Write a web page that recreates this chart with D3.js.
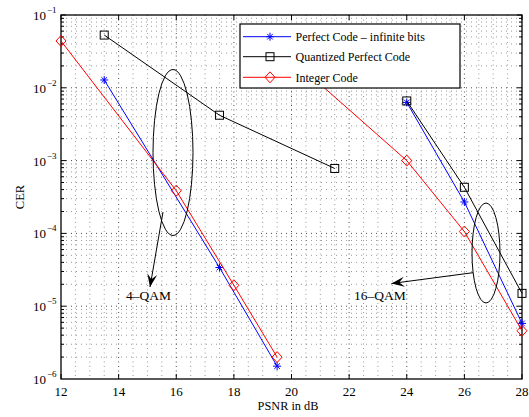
<!DOCTYPE html>
<html><head><meta charset="utf-8">
<script src="https://cdn.jsdelivr.net/npm/d3@7"></script>
<style>body{margin:0;background:#fff}svg{display:block}text{font-family:"Liberation Serif","Times New Roman",serif;fill:#000}</style>
</head><body><svg id="c" width="529" height="417"></svg>
<script>
// Data (PSNR in dB vs CER); null breaks between 4-QAM and 16-QAM groups
const perfectX = [13.5, 17.5, 19.5, null, 24, 26, 28];
const perfectY = [1.28e-2, 3.4e-5, 1.5e-6, null, 6.3e-3, 2.7e-4, 5.8e-6];
const quantX = [13.5, 17.5, 21.5, null, 24, 26, 28];
const quantY = [5.3e-2, 4.2e-3, 7.8e-4, null, 6.6e-3, 4.3e-4, 1.5e-5];
const integerX = [12, 16, 18, 19.5, null, 20, 24, 26, 28];
const integerY = [4.4e-2, 3.86e-4, 1.94e-5, 2.0e-6, null, 2.5e-2, 1.0e-3, 1.06e-4, 4.6e-6];
const xTicks = [12, 14, 16, 18, 20, 22, 24, 26, 28];
const yTickExps = [-1, -2, -3, -4, -5, -6];
const legendLabels = ["Perfect Code \u2013 infinite bits", "Quantized Perfect Code", "Integer Code"];
const annotations = ["4\u2013QAM", "16\u2013QAM"];

const svg = d3.select("#c");
const L = 61, R = 522, T = 15, B = 379;
const x = d3.scaleLinear().domain([12, 28]).range([L, R]);
const y = d3.scaleLog().domain([1e-6, 1e-1]).range([B, T]);

// grid
const g = svg.append("g");
const xMinor = d3.range(12.5, 28, 0.5);
g.selectAll("line.gx").data(xMinor).enter().append("line")
  .attr("x1", d => x(d)).attr("x2", d => x(d)).attr("y1", T).attr("y2", B)
  .attr("stroke", "#000").attr("stroke-width", 1).attr("stroke-dasharray", "1,3.5")
  .attr("stroke-opacity", d => (d % 2 === 0) ? 0.7 : 0.4);
const yMinor = [];
for (let e = -6; e < -1; e++) for (let k = 1; k < 10; k++) { const v = k * Math.pow(10, e); if (v > 1e-6) yMinor.push(v); }
g.selectAll("line.gy").data(yMinor).enter().append("line")
  .attr("x1", L).attr("x2", R).attr("y1", d => y(d)).attr("y2", d => y(d))
  .attr("stroke", "#000").attr("stroke-width", 1).attr("stroke-dasharray", "1,4")
  .attr("stroke-opacity", d => Math.abs(Math.log10(d) - Math.round(Math.log10(d))) < 1e-9 ? 0.7 : 0.4);

// ticks (inside, all four sides)
const ticks = svg.append("g").attr("stroke", "#000").attr("stroke-width", 1);
xTicks.forEach(t => {
  ticks.append("line").attr("x1", x(t)).attr("x2", x(t)).attr("y1", B).attr("y2", B - 5);
  ticks.append("line").attr("x1", x(t)).attr("x2", x(t)).attr("y1", T).attr("y2", T + 5);
});
yMinor.concat([1e-1]).forEach(v => {
  const major = Math.abs(Math.log10(v) - Math.round(Math.log10(v))) < 1e-9;
  const len = major ? 5 : 3;
  ticks.append("line").attr("x1", L).attr("x2", L + len).attr("y1", y(v)).attr("y2", y(v));
  ticks.append("line").attr("x1", R).attr("x2", R - len).attr("y1", y(v)).attr("y2", y(v));
});
svg.append("rect").attr("x", L).attr("y", T).attr("width", R - L).attr("height", B - T)
  .attr("fill", "none").attr("stroke", "#000").attr("stroke-width", 1.3);

// tick labels
svg.selectAll("text.xt").data(xTicks).enter().append("text")
  .attr("x", d => x(d)).attr("y", 396).attr("text-anchor", "middle").attr("font-size", 13).text(d => d);
yTickExps.forEach(e => {
  svg.append("text").attr("x", 46).attr("y", y(Math.pow(10, e)) + 5).attr("text-anchor", "end").attr("font-size", 13).text("10");
  svg.append("text").attr("x", 47).attr("y", y(Math.pow(10, e)) - 2).attr("font-size", 9).text("\u2212" + (-e));
});
svg.append("text").attr("x", 288).attr("y", 410).attr("text-anchor", "middle").attr("font-size", 12.3).text("PSNR in dB");
svg.append("text").attr("transform", "translate(24," + ((T + B) / 2) + ") rotate(-90)")
  .attr("text-anchor", "middle").attr("font-size", 12.5).text("CER");

// series
const series = [
  { xs: perfectX, ys: perfectY, color: "#0000ff", marker: "star" },
  { xs: quantX, ys: quantY, color: "#000000", marker: "square" },
  { xs: integerX, ys: integerY, color: "#ff0000", marker: "diamond" }
];
const line = d3.line().defined(d => d[0] !== null).x(d => x(d[0])).y(d => y(d[1]));
function drawMarker(sel, type, color, cx, cy) {
  if (type === "square") {
    sel.append("rect").attr("x", cx - 4).attr("y", cy - 4).attr("width", 8).attr("height", 8)
      .attr("fill", "none").attr("stroke", color).attr("stroke-width", 1);
  } else if (type === "diamond") {
    sel.append("path").attr("d", `M${cx},${cy - 5.5}L${cx + 5},${cy}L${cx},${cy + 5.5}L${cx - 5},${cy}Z`)
      .attr("fill", "none").attr("stroke", color).attr("stroke-width", 1);
  } else {
    const r = 4;
    const p = `M${cx - r},${cy}L${cx + r},${cy}M${cx},${cy - r}L${cx},${cy + r}` +
      `M${cx - r * 0.7},${cy - r * 0.7}L${cx + r * 0.7},${cy + r * 0.7}M${cx - r * 0.7},${cy + r * 0.7}L${cx + r * 0.7},${cy - r * 0.7}`;
    sel.append("path").attr("d", p).attr("fill", "none").attr("stroke", color).attr("stroke-width", 1);
  }
}
series.forEach(s => {
  const pts = s.xs.map((v, i) => [v, s.ys[i]]);
  svg.append("path").datum(pts).attr("d", line).attr("fill", "none").attr("stroke", s.color).attr("stroke-width", 1);
  const mg = svg.append("g");
  pts.filter(d => d[0] !== null).forEach(d => drawMarker(mg, s.marker, s.color, x(d[0]), y(d[1])));
});

// annotations: ellipses and arrows
const ann = svg.append("g").attr("stroke", "#000").attr("fill", "none").attr("stroke-width", 1);
ann.append("ellipse").attr("cx", 173).attr("cy", 152.5).attr("rx", 20).attr("ry", 83);
ann.append("ellipse").attr("cx", 486).attr("cy", 253).attr("rx", 14).attr("ry", 50);
function arrow(x1, y1, x2, y2) {
  ann.append("line").attr("x1", x1).attr("y1", y1).attr("x2", x2).attr("y2", y2);
  const a = Math.atan2(y2 - y1, x2 - x1), len = 13, w = 5;
  const bx = x2 - len * Math.cos(a), by = y2 - len * Math.sin(a);
  const mx = x2 - len * 0.6 * Math.cos(a), my = y2 - len * 0.6 * Math.sin(a);
  svg.append("path").attr("d", `M${x2},${y2}L${bx - w * Math.sin(a)},${by + w * Math.cos(a)}L${mx},${my}L${bx + w * Math.sin(a)},${by - w * Math.cos(a)}Z`)
    .attr("fill", "#000");
}
arrow(163, 212, 150, 287);
arrow(473, 272.7, 391.5, 283.5);
svg.append("text").attr("x", 126).attr("y", 300).attr("font-size", 13.5).text(annotations[0]);
svg.append("text").attr("x", 354).attr("y", 300).attr("font-size", 13.5).text(annotations[1]);

// legend
const lg = svg.append("g");
lg.append("rect").attr("x", 240).attr("y", 24).attr("width", 220).attr("height", 64)
  .attr("fill", "#fff").attr("stroke", "#000").attr("stroke-width", 1.2);
const rowY = [36.7, 56.7, 77.3];
series.forEach((s, i) => {
  lg.append("line").attr("x1", 243).attr("x2", 291).attr("y1", rowY[i]).attr("y2", rowY[i]).attr("stroke", s.color).attr("stroke-width", 1);
  drawMarker(lg, s.marker, s.color, 270, rowY[i]);
  lg.append("text").attr("x", 295.5).attr("y", rowY[i] + 4.5).attr("font-size", 12).text(legendLabels[i]);
});
</script></body></html>
